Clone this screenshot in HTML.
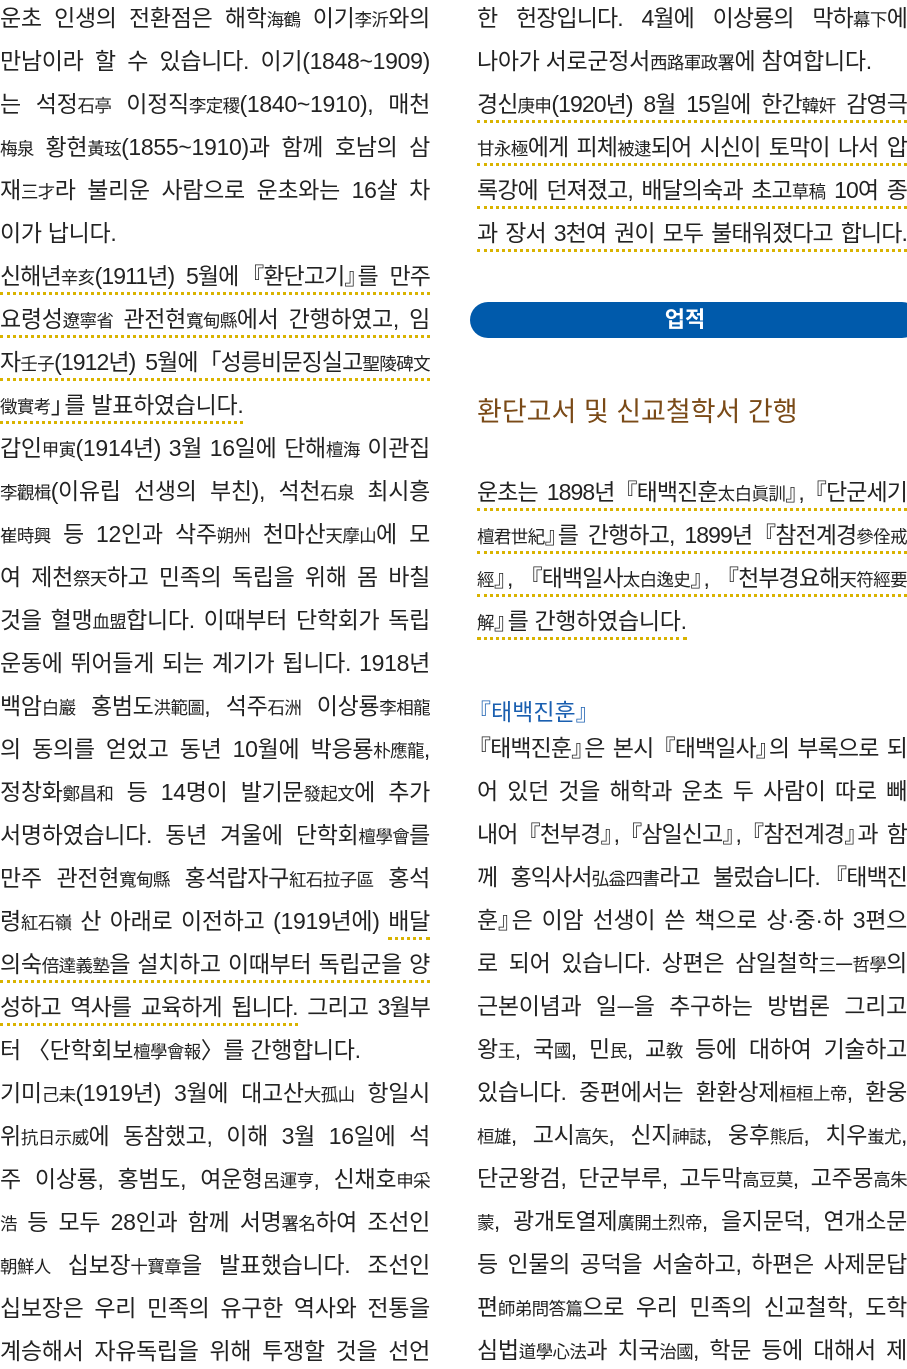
<!DOCTYPE html>
<html><head><meta charset="utf-8"><style>
body{margin:0;width:907px;height:1369px;background:#fff;position:relative;overflow:hidden;font-family:"Liberation Sans","Noto Sans CJK KR",sans-serif;color:#222}
.l{position:absolute;width:430px;font-size:23px;line-height:30px;height:30px;white-space:nowrap;text-align:justify;text-align-last:justify;text-justify:inter-word;letter-spacing:-0.3px}
.t{letter-spacing:-0.9px}
.L{left:0}.R{left:477px}
.e{text-align-last:left}
.h{display:inline-block;font-size:17.5px;font-family:"Noto Sans CJK KR",sans-serif;letter-spacing:-0.6px}
.o{display:inline-block;margin-left:-9px}.c{display:inline-block;margin-right:-9px}
.u{border-bottom:3px dotted #d9b300;padding-bottom:3px}
.ban{position:absolute;left:470px;top:302px;width:450px;height:36px;background:#005aab;border-radius:18px;color:#fff;font-weight:bold;font-size:22px;line-height:36px;text-align:center;text-indent:-20px}
.hd{position:absolute;left:477px;top:390px;font-size:27px;color:#7a4a17;white-space:nowrap}
.sh{position:absolute;left:477px;top:693px;font-size:23px;color:#1a5fb0;white-space:nowrap}
</style></head><body>
<div class="l L" style="top:3px">운초 인생의 전환점은 해학<span class="h">海鶴</span> 이기<span class="h">李沂</span>와의</div>
<div class="l L" style="top:46px">만남이라 할 수 있습니다. 이기(1848~1909)</div>
<div class="l L" style="top:89px">는 석정<span class="h">石亭</span> 이정직<span class="h">李定稷</span>(1840~1910), 매천</div>
<div class="l L" style="top:132px"><span class="h">梅泉</span> 황현<span class="h">黃玹</span>(1855~1910)과 함께 호남의 삼</div>
<div class="l L" style="top:175px">재<span class="h">三才</span>라 불리운 사람으로 운초와는 16살 차</div>
<div class="l L e" style="top:218px">이가 납니다.</div>
<div class="l L t" style="top:261px"><span class="u">신해년<span class="h">辛亥</span>(1911년) 5월에 <span class="o">『</span>환단고기<span class="c">』</span>를 만주</span></div>
<div class="l L" style="top:304px"><span class="u">요령성<span class="h">遼寧省</span> 관전현<span class="h">寬甸縣</span>에서 간행하였고, 임</span></div>
<div class="l L t" style="top:347px"><span class="u">자<span class="h">壬子</span>(1912년) 5월에 <span class="o">「</span>성릉비문징실고<span class="h">聖陵碑文</span></span></div>
<div class="l L e" style="top:390px"><span class="u"><span class="h">徵實考</span><span class="c">」</span>를 발표하였습니다.</span></div>
<div class="l L" style="top:433px">갑인<span class="h">甲寅</span>(1914년) 3월 16일에 단해<span class="h">檀海</span> 이관집</div>
<div class="l L" style="top:476px"><span class="h">李觀楫</span>(이유립 선생의 부친), 석천<span class="h">石泉</span> 최시흥</div>
<div class="l L" style="top:519px"><span class="h">崔時興</span> 등 12인과 삭주<span class="h">朔州</span> 천마산<span class="h">天摩山</span>에 모</div>
<div class="l L" style="top:562px">여 제천<span class="h">祭天</span>하고 민족의 독립을 위해 몸 바칠</div>
<div class="l L" style="top:605px">것을 혈맹<span class="h">血盟</span>합니다. 이때부터 단학회가 독립</div>
<div class="l L" style="top:648px">운동에 뛰어들게 되는 계기가 됩니다. 1918년</div>
<div class="l L" style="top:691px">백암<span class="h">白巖</span> 홍범도<span class="h">洪範圖</span>, 석주<span class="h">石洲</span> 이상룡<span class="h">李相龍</span></div>
<div class="l L" style="top:734px">의 동의를 얻었고 동년 10월에 박응룡<span class="h">朴應龍</span>,</div>
<div class="l L" style="top:777px">정창화<span class="h">鄭昌和</span> 등 14명이 발기문<span class="h">發起文</span>에 추가</div>
<div class="l L" style="top:820px">서명하였습니다. 동년 겨울에 단학회<span class="h">檀學會</span>를</div>
<div class="l L" style="top:863px">만주 관전현<span class="h">寬甸縣</span> 홍석랍자구<span class="h">紅石拉子區</span> 홍석</div>
<div class="l L" style="top:906px">령<span class="h">紅石嶺</span> 산 아래로 이전하고 (1919년에) <span class="u">배달</span></div>
<div class="l L" style="top:949px"><span class="u">의숙<span class="h">倍達義塾</span>을 설치하고 이때부터 독립군을 양</span></div>
<div class="l L t" style="top:992px"><span class="u">성하고 역사를 교육하게 됩니다.</span> 그리고 3월부</div>
<div class="l L e" style="top:1035px">터 〈단학회보<span class="h">檀學會報</span>〉를 간행합니다.</div>
<div class="l L" style="top:1078px">기미<span class="h">己未</span>(1919년) 3월에 대고산<span class="h">大孤山</span> 항일시</div>
<div class="l L" style="top:1121px">위<span class="h">抗日示威</span>에 동참했고, 이해 3월 16일에 석</div>
<div class="l L" style="top:1164px">주 이상룡, 홍범도, 여운형<span class="h">呂運亨</span>, 신채호<span class="h">申采</span></div>
<div class="l L" style="top:1207px"><span class="h">浩</span> 등 모두 28인과 함께 서명<span class="h">署名</span>하여 조선인</div>
<div class="l L" style="top:1250px"><span class="h">朝鮮人</span> 십보장<span class="h">十寶章</span>을 발표했습니다. 조선인</div>
<div class="l L" style="top:1293px">십보장은 우리 민족의 유구한 역사와 전통을</div>
<div class="l L" style="top:1336px">계승해서 자유독립을 위해 투쟁할 것을 선언</div>

<div class="l R t" style="top:3px">한 헌장입니다. 4월에 이상룡의 막하<span class="h">幕下</span>에</div>
<div class="l R e" style="top:46px">나아가 서로군정서<span class="h">西路軍政署</span>에 참여합니다.</div>
<div class="l R t" style="top:89px"><span class="u">경신<span class="h">庚申</span>(1920년) 8월 15일에 한간<span class="h">韓奸</span> 감영극</span></div>
<div class="l R t" style="top:132px"><span class="u"><span class="h">甘永極</span>에게 피체<span class="h">被逮</span>되어 시신이 토막이 나서 압</span></div>
<div class="l R t" style="top:175px"><span class="u">록강에 던져졌고, 배달의숙과 초고<span class="h">草稿</span> 10여 종</span></div>
<div class="l R t" style="top:218px"><span class="u">과 장서 3천여 권이 모두 불태워졌다고 합니다.</span></div>
<div class="ban">업적</div>
<div class="hd">환단고서 및 신교철학서 간행</div>
<div class="l R t" style="top:477px"><span class="u">운초는 1898년 <span class="o">『</span>태백진훈<span class="h">太白眞訓</span><span class="c">』</span>, <span class="o">『</span>단군세기</span></div>
<div class="l R t" style="top:520px"><span class="u"><span class="h">檀君世紀</span><span class="c">』</span>를 간행하고, 1899년 <span class="o">『</span>참전계경<span class="h">參佺戒</span></span></div>
<div class="l R t" style="top:563px"><span class="u"><span class="h">經</span><span class="c">』</span>, <span class="o">『</span>태백일사<span class="h">太白逸史</span><span class="c">』</span>, <span class="o">『</span>천부경요해<span class="h">天符經要</span></span></div>
<div class="l R e" style="top:606px"><span class="u"><span class="h">解</span><span class="c">』</span>를 간행하였습니다.</span></div>
<div class="sh"><span class="o">『</span>태백진훈<span class="c">』</span></div>
<div class="l R t" style="top:733px"><span class="o">『</span>태백진훈<span class="c">』</span>은 본시 <span class="o">『</span>태백일사<span class="c">』</span>의 부록으로 되</div>
<div class="l R" style="top:776px">어 있던 것을 해학과 운초 두 사람이 따로 빼</div>
<div class="l R t" style="top:819px">내어 <span class="o">『</span>천부경<span class="c">』</span>, <span class="o">『</span>삼일신고<span class="c">』</span>, <span class="o">『</span>참전계경<span class="c">』</span>과 함</div>
<div class="l R t" style="top:862px">께 홍익사서<span class="h">弘益四書</span>라고 불렀습니다. <span class="o">『</span>태백진</div>
<div class="l R" style="top:905px">훈<span class="c">』</span>은 이암 선생이 쓴 책으로 상·중·하 3편으</div>
<div class="l R" style="top:948px">로 되어 있습니다. 상편은 삼일철학<span class="h">三一哲學</span>의</div>
<div class="l R" style="top:991px">근본이념과 일<span class="h">一</span>을 추구하는 방법론 그리고</div>
<div class="l R" style="top:1034px">왕<span class="h">王</span>, 국<span class="h">國</span>, 민<span class="h">民</span>, 교<span class="h">敎</span> 등에 대하여 기술하고</div>
<div class="l R" style="top:1077px">있습니다. 중편에서는 환환상제<span class="h">桓桓上帝</span>, 환웅</div>
<div class="l R" style="top:1120px"><span class="h">桓雄</span>, 고시<span class="h">高矢</span>, 신지<span class="h">神誌</span>, 웅후<span class="h">熊后</span>, 치우<span class="h">蚩尤</span>,</div>
<div class="l R" style="top:1163px">단군왕검, 단군부루, 고두막<span class="h">高豆莫</span>, 고주몽<span class="h">高朱</span></div>
<div class="l R" style="top:1206px"><span class="h">蒙</span>, 광개토열제<span class="h">廣開土烈帝</span>, 을지문덕, 연개소문</div>
<div class="l R" style="top:1249px">등 인물의 공덕을 서술하고, 하편은 사제문답</div>
<div class="l R" style="top:1292px">편<span class="h">師弟問答篇</span>으로 우리 민족의 신교철학, 도학</div>
<div class="l R" style="top:1335px">심법<span class="h">道學心法</span>과 치국<span class="h">治國</span>, 학문 등에 대해서 제</div>
</body></html>
